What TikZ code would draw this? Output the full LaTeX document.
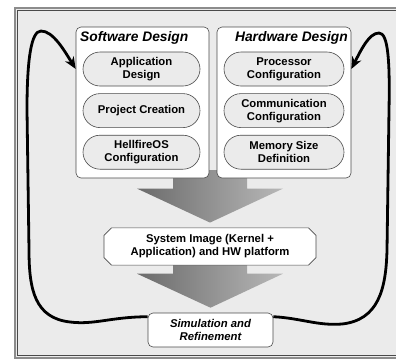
\documentclass[tikz,border=0pt]{standalone}
\usepackage{fontspec}
\setmainfont{Liberation Sans}
\usetikzlibrary{arrows.meta,positioning,shapes.misc,backgrounds,calc}
\definecolor{panel}{HTML}{EBEBEB}
\definecolor{edge}{HTML}{4A4A4A}
\tikzset{
  group/.style={draw=edge, fill=white, rounded corners=5pt, line width=0.6pt, minimum height=151pt},
  title/.style={font=\fontsize{13.8}{15}\selectfont\bfseries\itshape, inner sep=0pt},
  pill/.style={draw=edge, fill=panel, rounded rectangle, minimum height=34pt, align=center,
    font=\fontsize{11.3}{13}\selectfont\bfseries, inner sep=1pt, line width=0.6pt},
  stage/.style={draw=edge, fill=white, align=center, minimum height=33pt, line width=0.6pt,
    font=\fontsize{11.3}{13}\selectfont\bfseries},
  loop/.style={-{Stealth[length=12pt, width=10pt]}, line width=2.8pt},
  flow/.style={left color=black!58, right color=black!28}
}
\begin{document}
\begin{tikzpicture}[x=1pt, y=-1pt, node distance=7pt]
\useasboundingbox (0,0) rectangle (396,360);
% design groups
\node[group, minimum width=133pt] (sw) at (142.5,102.5) {};
\node[group, minimum width=134pt] (hw) at (284,102.5) {};
\node[title, anchor=base west] (swt) at (80,41) {Software Design};
\node[title, anchor=base east] (hwt) at (348,41) {Hardware Design};
\node[pill, minimum width=119pt] (app) at (141.5,69) {Application\\Design};
\node[pill, minimum width=119pt, below=of app] (prj) {Project Creation};
\node[pill, minimum width=119pt, below=of prj] (hos) {HellfireOS\\Configuration};
\node[pill, minimum width=122pt] (proc) at (284,69) {Processor\\Configuration};
\node[pill, minimum width=122pt, below=of proc] (comm) {Communication\\Configuration};
\node[pill, minimum width=122pt, below=of comm] (mem) {Memory Size\\Definition};
\coordinate (split) at (210,170);
% build and simulation
\node[stage, chamfered rectangle, chamfered rectangle xsep=4pt, minimum width=212pt] (sys) at (210,246.5)
  {System Image (Kernel +\\Application) and HW platform};
\node[stage, rounded corners=5pt, minimum width=125pt, minimum height=34pt,
  font=\fontsize{11.3}{13}\selectfont\bfseries\itshape] (sim) at (210.5,330) {Simulation and\\Refinement};
\begin{scope}[on background layer]
\fill[white] (0,0) rectangle (396,360);
\draw[black!45, line width=2pt, fill=panel] (15,8) rectangle (410,357.5);
\draw[edge, line width=0.6pt] (16.8,9.8) rectangle (410,355.6);
\foreach \s/\t in {split/sys.north, sys.center/sim.north}
  \shade[flow] let \p1=(\s), \p2=(\t) in
    (\x1-37pt,\y1) -- (\x1+37pt,\y1) -- (\x1+37pt,\y2+39pt) -- (\x1+73pt,\y2+39pt)
    -- (\x2,\y2+5pt) -- (\x1-73pt,\y2+39pt) -- (\x1-37pt,\y2+39pt) -- cycle;
\end{scope}
% refinement loops
\draw[loop] ([yshift=-4pt]sim.north west) .. controls (110,317) and (95,325) .. (70,322)
  .. controls (35,318) and (29,290) .. (29,250) -- (27,110)
  .. controls (27,60) and (31,31) .. (41,31) .. controls (53,31) and (64,50) .. (sw.west |- app);
\draw[loop] ([yshift=-4pt]sim.north east) .. controls (300,318) and (318,326) .. (342,324)
  .. controls (378,320) and (386,290) .. (387,250) -- (389,110)
  .. controls (390,60) and (388,33) .. (379,33) .. controls (369,33) and (361,50) .. (hw.east |- proc);
\end{tikzpicture}
\end{document}
